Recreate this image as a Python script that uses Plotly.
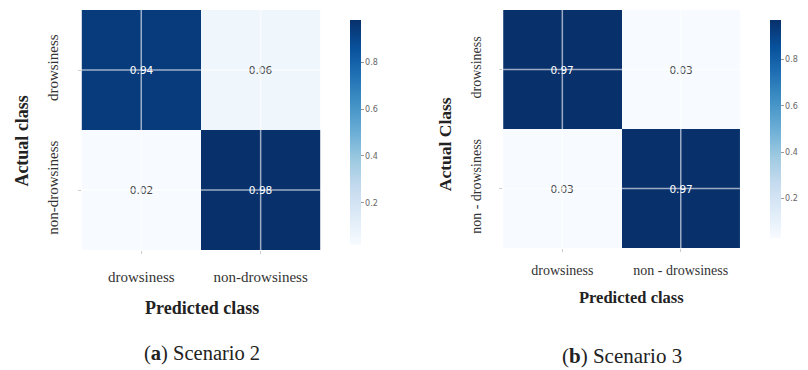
import plotly.graph_objects as go
import plotly.colors as pc

# Normalised confusion matrices (rows = actual, cols = predicted)
classes_s2 = ["drowsiness", "non-drowsiness"]
cm_s2 = [[0.94, 0.06],
         [0.02, 0.98]]

classes_s3 = ["drowsiness", "non - drowsiness"]
cm_s3 = [[0.97, 0.03],
         [0.03, 0.97]]

cbar_ticks = [0.2, 0.4, 0.6, 0.8]

W, H = 808, 370
blues = pc.sequential.Blues
serif = "Liberation Serif, Times New Roman, serif"
sans = "DejaVu Sans, Arial, sans-serif"


def px_x(v):
    return v / W


def px_y(v):
    return 1 - v / H


def heatmap(z, cats, xa, ya, cbar_x, cbar_len):
    flat = [v for row in z for v in row]
    return go.Heatmap(
        z=z, x=cats, y=cats, xaxis=xa, yaxis=ya,
        colorscale=blues, zmin=min(flat), zmax=max(flat),
        texttemplate="%{z:.2f}",
        textfont=dict(family=sans, size=10.5),
        xgap=0, ygap=0,
        colorbar=dict(
            x=cbar_x, xanchor="left", xref="paper",
            y=px_y(10), yanchor="top", yref="paper",
            len=cbar_len, lenmode="pixels",
            thickness=11, thicknessmode="pixels",
            outlinewidth=0,
            tickvals=cbar_ticks, ticktext=[f"{t:.1f}" for t in cbar_ticks],
            ticks="outside", ticklen=3, tickcolor="#999",
            tickfont=dict(family=sans, size=8, color="#666"),
        ),
    )


fig = go.Figure()
fig.add_trace(heatmap(cm_s2, classes_s2, "x", "y", px_x(346), 245))
fig.add_trace(heatmap(cm_s3, classes_s3, "x2", "y2", px_x(773), 238))

axis_common = dict(
    showgrid=False, zeroline=False, showline=False,
    ticks="outside", ticklen=3, tickcolor="#ccc",
)

fig.update_layout(
    width=W, height=H,
    margin=dict(l=0, r=0, t=0, b=0),
    paper_bgcolor="white", plot_bgcolor="white",
    showlegend=False,
    xaxis=dict(domain=[px_x(83), px_x(326)], anchor="y",
               tickfont=dict(family=serif, size=15, color="#333"),
               ticklabelstandoff=10, **axis_common),
    yaxis=dict(domain=[px_y(250), px_y(10)], anchor="x", autorange="reversed",
               tickangle=-90,
               tickfont=dict(family=serif, size=15, color="#333"),
               ticklabelstandoff=14, **axis_common),
    xaxis2=dict(domain=[px_x(512), px_x(753)], anchor="y2",
                tickfont=dict(family=serif, size=14, color="#333"),
                ticklabelstandoff=6, **axis_common),
    yaxis2=dict(domain=[px_y(248), px_y(10)], anchor="x2", autorange="reversed",
                tickangle=-90,
                tickfont=dict(family=serif, size=14, color="#333"),
                ticklabelstandoff=13, **axis_common),
)

# White grid lines through the cell centres, drawn over the heatmaps
grid_style = dict(color="rgba(255,255,255,0.6)", width=1.5)
for cats, xr, yr in [(classes_s2, "x", "y"), (classes_s3, "x2", "y2")]:
    for c in cats:
        fig.add_shape(type="line", xref=xr, yref=f"{yr} domain",
                      x0=c, x1=c, y0=0, y1=1, line=grid_style, layer="above")
        fig.add_shape(type="line", xref=f"{xr} domain", yref=yr,
                      x0=0, x1=1, y0=c, y1=c, line=grid_style, layer="above")

title_font = dict(family=serif, color="#222")
notes = [
    dict(text="<b>Predicted class</b>", x=px_x(206), y=px_y(308), size=18, angle=0),
    dict(text="<b>Predicted class</b>", x=px_x(643), y=px_y(297), size=16.5, angle=0),
    dict(text="<b>Actual class</b>", x=px_x(22), y=px_y(141), size=18, angle=-90),
    dict(text="<b>Actual Class</b>", x=px_x(453), y=px_y(144), size=17.5, angle=-90),
    dict(text="(<b>a</b>) Scenario 2", x=px_x(206), y=px_y(353), size=20.5, angle=0),
    dict(text="(<b>b</b>) Scenario 3", x=px_x(633), y=px_y(356), size=21, angle=0),
]
for n in notes:
    fig.add_annotation(
        text=n["text"], x=n["x"], y=n["y"], xref="paper", yref="paper",
        xanchor="center", yanchor="middle", showarrow=False,
        textangle=n["angle"], font=dict(size=n["size"], **title_font),
    )

fig.write_html("out.html")
